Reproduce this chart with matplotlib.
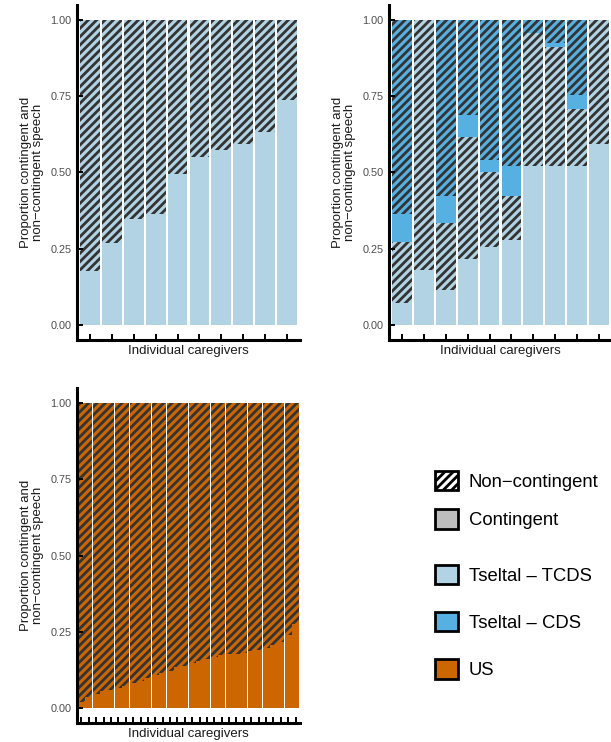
import matplotlib
matplotlib.use('Agg')
import matplotlib.pyplot as plt
from matplotlib.patches import Patch
import numpy as np

plt.rcParams['font.family'] = ['Liberation Sans', 'DejaVu Sans']
plt.rcParams['hatch.color'] = '#333333'
plt.rcParams['hatch.linewidth'] = 2.0

STRIPES = '////'

# Tseltal caregivers, target-child-directed speech: contingent share (rest is non-contingent)
tseltal_tcds_only = [0.178, 0.27, 0.348, 0.365, 0.496, 0.55, 0.575, 0.594, 0.632, 0.739]

# Tseltal caregivers split into TCDS and other CDS (segment heights, bottom to top)
tcds_contingent = [0.073, 0.180, 0.115, 0.216, 0.254, 0.280, 0.520, 0.520, 0.520, 0.594]
tcds_noncontingent = [0.198, 0.820, 0.218, 0.402, 0.249, 0.144, 0.437, 0.392, 0.190, 0.406]
cds_contingent = [0.093, 0.0, 0.091, 0.070, 0.039, 0.096, 0.0, 0.013, 0.043, 0.0]
cds_noncontingent = [0.636, 0.0, 0.576, 0.312, 0.458, 0.480, 0.043, 0.075, 0.247, 0.0]

# US caregivers: contingent share
us_contingent = [0.02, 0.035, 0.045, 0.055, 0.06, 0.065, 0.07, 0.08, 0.087, 0.098,
                 0.108, 0.115, 0.122, 0.133, 0.138, 0.148, 0.155, 0.16, 0.168, 0.172,
                 0.175, 0.178, 0.181, 0.186, 0.19, 0.195, 0.205, 0.215, 0.24, 0.275]

yticks = [0, 0.25, 0.5, 0.75, 1.0]
ytick_labels = ['0.00', '0.25', '0.50', '0.75', '1.00']

light_blue = '#B2D3E4'
blue = '#56B0E2'
orange = '#CC6600'
grey = '#BEBEBE'


def style_axes(ax, n):
    ax.set_xlim(0.4, n + 0.6)
    ax.set_ylim(-0.05, 1.05)
    ax.set_xticks(np.arange(1, n + 1))
    ax.set_xticklabels([])
    ax.set_yticks(yticks)
    ax.set_yticklabels(ytick_labels)
    for s in ['top', 'right']:
        ax.spines[s].set_visible(False)
    for s in ['left', 'bottom']:
        ax.spines[s].set_linewidth(2.2)
    ax.tick_params(direction='in', length=4, width=1.4, color='black',
                   labelsize=7.8, labelcolor='#4D4D4D', pad=4)
    ax.set_xlabel('Individual caregivers', fontsize=9.5, color='#1A1A1A')
    ax.set_ylabel('Proportion contingent and\nnon\u2212contingent speech',
                  fontsize=9.5, color='#1A1A1A', linespacing=1.0)
    ax.yaxis.set_label_coords(-0.15, 0.5)
    ax.xaxis.set_label_coords(0.5, -0.015)


W, H = 611, 742
fig = plt.figure(figsize=(W / 100, H / 100), dpi=100)
ax1 = fig.add_axes([77 / W, 1 - 340 / H, 223 / W, 335 / H])
ax2 = fig.add_axes([389 / W, 1 - 340 / H, 223 / W, 335 / H])
ax3 = fig.add_axes([77 / W, 1 - 723 / H, 223 / W, 335 / H])

# panel 1: TCDS only
x = np.arange(1, len(tseltal_tcds_only) + 1)
c = np.array(tseltal_tcds_only)
ax1.bar(x, c, width=0.9, color=light_blue)
ax1.bar(x, 1 - c, bottom=c, width=0.9, color=light_blue, hatch=STRIPES)
style_axes(ax1, len(x))

# panel 2: TCDS and CDS stacked
x = np.arange(1, len(tcds_contingent) + 1)
bottom = np.zeros(len(x))
for vals, col, h in [(tcds_contingent, light_blue, None),
                     (tcds_noncontingent, light_blue, STRIPES),
                     (cds_contingent, blue, None),
                     (cds_noncontingent, blue, STRIPES)]:
    v = np.array(vals)
    ax2.bar(x, v, bottom=bottom, width=0.9, color=col, hatch=h)
    bottom = bottom + v
style_axes(ax2, len(x))

# panel 3: US (narrow bars, so the gaps mostly round away)
x = np.arange(1, len(us_contingent) + 1)
c = np.array(us_contingent)
ax3.bar(x, c, width=0.955, color=orange)
ax3.bar(x, 1 - c, bottom=c, width=0.955, color=orange, hatch=STRIPES)
style_axes(ax3, len(x))

# legends
fs = 13.3
handles1 = [Patch(facecolor='white', edgecolor='black', linewidth=2, hatch=STRIPES),
            Patch(facecolor=grey, edgecolor='black', linewidth=2)]
leg1 = fig.legend(handles1, ['Non\u2212contingent', 'Contingent'],
                  loc='upper left', bbox_to_anchor=(435 / W, 1 - 471 / H),
                  frameon=False, fontsize=fs, borderpad=0, borderaxespad=0,
                  handlelength=1.24, handleheight=1.24, handletextpad=0.6,
                  labelspacing=1.0)
handles2 = [Patch(facecolor=light_blue, edgecolor='black', linewidth=2),
            Patch(facecolor=blue, edgecolor='black', linewidth=2),
            Patch(facecolor=orange, edgecolor='black', linewidth=2)]
leg2 = fig.legend(handles2, ['Tseltal \u2013 TCDS', 'Tseltal \u2013 CDS', 'US'],
                  loc='upper left', bbox_to_anchor=(435 / W, 1 - 565 / H),
                  frameon=False, fontsize=fs, borderpad=0, borderaxespad=0,
                  handlelength=1.24, handleheight=1.24, handletextpad=0.6,
                  labelspacing=1.47)

fig.savefig('out.png', dpi=100)
